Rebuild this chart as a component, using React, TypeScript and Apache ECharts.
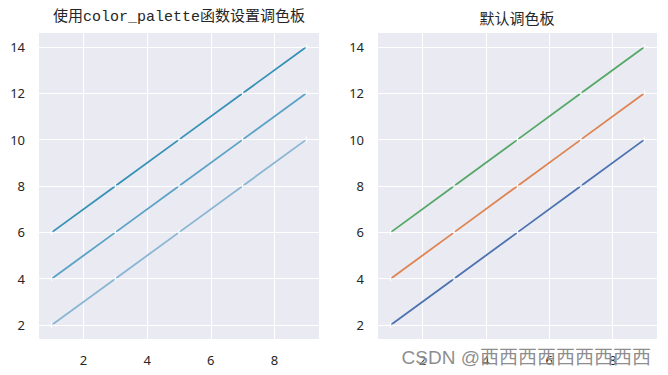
import React, { useEffect, useRef } from "react";
import * as echarts from "echarts";

const xValues = [1, 3, 5, 7, 9];
const seriesLow = [2, 4, 6, 8, 10];
const seriesMid = [4, 6, 8, 10, 12];
const seriesHigh = [6, 8, 10, 12, 14];
const xTicks = [2, 4, 6, 8];
const yTicks = [2, 4, 6, 8, 10, 12, 14];
const leftColors = ["#8ab6d3", "#5aa2c6", "#3591b6"];
const rightColors = ["#4c72b0", "#dd8452", "#55a868"];
const leftTitle = "使用color_palette函数设置调色板";
const rightTitle = "默认调色板";
const watermark = "CSDN @西西西西西西西西西";

const tickFont = "'Noto Sans', 'DejaVu Sans', sans-serif";

export default function App() {
  const ref = useRef<HTMLDivElement>(null);
  useEffect(() => {
    document.body.style.margin = "0";
    const chart = echarts.init(ref.current!, null, { renderer: "svg" });
    const mkX = (gi: number) => ({
      type: "value",
      gridIndex: gi,
      min: 0.6,
      max: 9.4,
      axisLine: { show: false },
      axisTick: { show: false, customValues: xTicks },
      axisLabel: { customValues: xTicks, color: "#262626", fontSize: 13, fontFamily: tickFont, margin: 14 },
      splitLine: { show: true, lineStyle: { color: "#ffffff", width: 1 } },
    });
    const mkY = (gi: number) => ({
      type: "value",
      gridIndex: gi,
      min: 1.4,
      max: 14.6,
      axisLine: { show: false },
      axisTick: { show: false, customValues: yTicks },
      axisLabel: { customValues: yTicks, color: "#262626", fontSize: 13, fontFamily: tickFont, margin: 14 },
      splitLine: { show: true, lineStyle: { color: "#ffffff", width: 1 } },
    });
    const sets = [seriesLow, seriesMid, seriesHigh];
    const series: any[] = [];
    [leftColors, rightColors].forEach((cols, gi) => {
      sets.forEach((ys, i) => {
        series.push({
          type: "line",
          xAxisIndex: gi,
          yAxisIndex: gi,
          data: xValues.map((x, k) => [x, ys[k]]),
          lineStyle: { color: cols[i], width: 1.8 },
          symbol: "path://M5,0L5,10M0,5L10,5",
          symbolSize: 6,
          itemStyle: { color: "#ffffff", borderColor: "#ffffff", borderWidth: 1 },
          z: 3,
        });
      });
    });
    chart.setOption({
      animation: false,
      backgroundColor: "#ffffff",
      grid: [
        { left: 39, right: 349, top: 33, bottom: 36, show: true, backgroundColor: "#eaeaf2", borderWidth: 0 },
        { left: 378, right: 11, top: 33, bottom: 36, show: true, backgroundColor: "#eaeaf2", borderWidth: 0 },
      ],
      xAxis: [mkX(0), mkX(1)],
      yAxis: [mkY(0), mkY(1)],
      series,
      graphic: [
        {
          type: "text",
          x: 179,
          y: 17,
          style: {
            text: leftTitle,
            fill: "#262626",
            fontSize: 15,
            fontFamily: "'Liberation Mono', 'Noto Sans CJK SC', monospace",
            align: "center",
            verticalAlign: "middle",
          },
        },
        {
          type: "text",
          x: 517,
          y: 17,
          style: {
            text: rightTitle,
            fill: "#262626",
            fontSize: 15,
            fontFamily: "'Noto Sans CJK SC', sans-serif",
            align: "center",
            verticalAlign: "middle",
          },
        },
        {
          type: "text",
          x: 651,
          y: 357,
          z: 100,
          style: {
            text: watermark,
            fill: "rgba(120,120,120,0.85)",
            stroke: "rgba(255,255,255,0.6)",
            lineWidth: 1,
            fontSize: 19,
            fontFamily: "'Liberation Sans', 'Noto Sans CJK SC', sans-serif",
            align: "right",
            verticalAlign: "middle",
          },
        },
      ],
    });
    return () => chart.dispose();
  }, []);
  return <div ref={ref} style={{ width: 668, height: 375 }} />;
}
